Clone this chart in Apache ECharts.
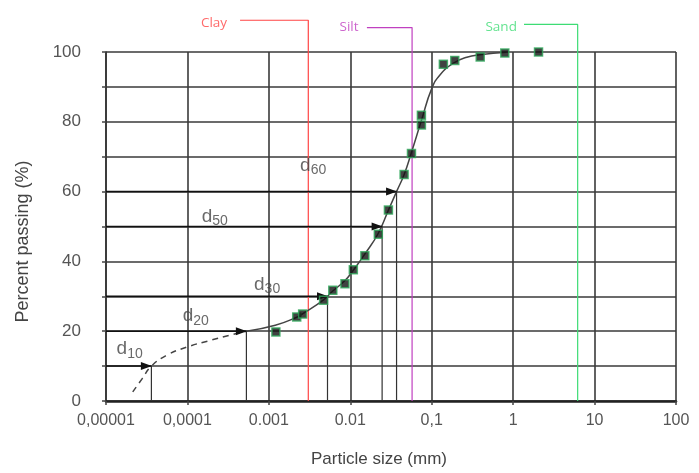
<!DOCTYPE html>
<html>
<head>
<meta charset="utf-8">
<script src="https://cdn.jsdelivr.net/npm/echarts@6/dist/echarts.min.js"></script>
<style>html,body{margin:0;padding:0;background:#fff}#c{width:699px;height:473px}</style>
</head>
<body>
<div id="c"></div>
<script>
// ---- Data ----
const xTickLabels = ['0,00001', '0,0001', '0.001', '0.01', '0,1', '1', '10', '100'];
const yTickLabels = ['0', '20', '40', '60', '80', '100'];

// measured grain sizes (mm) and percent passing
const sampleSize = [0.00122, 0.0022, 0.0026, 0.0047, 0.0061, 0.0086, 0.0109, 0.0151, 0.0221, 0.0294, 0.0458, 0.0564, 0.0747, 0.0747, 0.139, 0.192, 0.394, 0.79, 2.05];
const samplePass = [19.8, 24.1, 24.9, 28.9, 31.7, 33.6, 37.6, 41.6, 47.8, 54.7, 64.9, 70.9, 79.1, 81.9, 96.5, 97.6, 98.6, 99.7, 100];

// fitted gradation curve (solid part)
const curveSize = [0.00053, 0.0012, 0.0022, 0.0026, 0.0047, 0.0061, 0.0086, 0.011, 0.015, 0.022, 0.0294, 0.037, 0.046, 0.056, 0.075, 0.1, 0.127, 0.185, 0.27, 0.39, 0.83];
const curvePass = [20, 21.7, 24, 25, 29, 31.5, 34.5, 37.6, 42, 48, 54.7, 60, 65, 71, 80.5, 89.5, 93.5, 96.8, 98.5, 99.2, 99.9];

// extrapolated curve (dashed part)
const extraSize = [0.0000213, 0.0000280, 0.0000361, 0.0000557, 0.0001, 0.0002, 0.00035, 0.00053];
const extraPass = [2.6, 6.5, 10, 13.1, 15.5, 17.5, 19, 20];

// characteristic diameters
const dNames = ['10', '20', '30', '50', '60'];
const dPass = [10, 20, 30, 50, 60];
const dSize = [0.0000361, 0.00053, 0.00525, 0.0246, 0.037];
// label anchor positions for d labels
const dLabelSize = [0.0000135, 0.0000875, 0.000658, 0.00015, 0.00242];
const dLabelPass = [15.0, 24.4, 33.4, 52.9, 67.5];

// soil class boundaries
const classNames = ['Clay', 'Silt', 'Sand'];
const classColors = ['#ff4545', '#c040c0', '#3ddc74'];
const classLimit = [0.00305, 0.0574, 6.2];
const classLeaderStart = [0.000443, 0.016, 1.36];
const classLeaderPass = [109.1, 107.0, 107.9];
const classLabelSize = [0.000212, 0.00966, 0.713];
const classLabelPass = [108.3, 107.0, 107.0];

const xMinVal = 0.00001, xMaxVal = 100;

// ---- Chart ----
const chart = echarts.init(document.getElementById('c'), null, {renderer: 'canvas'});
const FONT = '"Liberation Sans", Arial, sans-serif';

const series = [];

series.push({
  type: 'line', name: 'extrapolated',
  data: extraSize.map((x, i) => [x, extraPass[i]]),
  smooth: 0.5, showSymbol: false, symbol: 'none', clip: false,
  lineStyle: {color: '#444', width: 1.5, type: [6, 5]}, z: 3
});
series.push({
  type: 'line', name: 'curve',
  data: curveSize.map((x, i) => [x, curvePass[i]]),
  smooth: 0.5, showSymbol: false, symbol: 'none', clip: false,
  lineStyle: {color: '#444', width: 1.5}, z: 3
});

// d arrows and drop lines
dNames.forEach((n, i) => {
  series.push({
    type: 'line', clip: false, z: 4,
    data: [
      {value: [xMinVal, dPass[i]], symbol: 'none'},
      {value: [dSize[i], dPass[i]], symbol: 'triangle', symbolSize: [8, 11], symbolRotate: -90, symbolOffset: [-5, 0]}
    ],
    showSymbol: true, showAllSymbol: true,
    itemStyle: {color: '#111'},
    lineStyle: {color: '#111', width: 1.5}
  });
  series.push({
    type: 'line', clip: false, z: 4, symbol: 'none',
    data: [[dSize[i], 0], [dSize[i], dPass[i]]],
    lineStyle: {color: '#333', width: 1.2}
  });
});

// d labels
series.push({
  type: 'scatter', symbolSize: 0, clip: false, z: 5,
  data: dLabelSize.map((x, i) => ({value: [x, dLabelPass[i]], name: dNames[i]})),
  label: {
    show: true, position: 'right', distance: 0,
    formatter: p => '{d|d}{s|' + p.name + '}',
    rich: {
      d: {fontFamily: FONT, fontSize: 19, color: '#444', lineHeight: 24},
      s: {fontFamily: FONT, fontSize: 14, color: '#444', verticalAlign: 'bottom'}
    }
  }
});

// class boundaries
classNames.forEach((n, i) => {
  series.push({
    type: 'line', clip: false, z: 2, symbol: 'none',
    data: [[classLeaderStart[i], classLeaderPass[i]], [classLimit[i], classLeaderPass[i]], [classLimit[i], 0]],
    lineStyle: {color: classColors[i], width: 1.2}
  });
  series.push({
    type: 'scatter', clip: false, symbolSize: 0, z: 5,
    data: [[classLabelSize[i], classLabelPass[i]]],
    label: {show: true, position: 'inside', formatter: n, color: classColors[i], fontFamily: '"Open Sans", "Noto Sans", sans-serif', fontSize: 13.5}
  });
});

// samples
series.push({
  type: 'scatter', name: 'samples', z: 6, clip: false,
  data: sampleSize.map((x, i) => [x, samplePass[i]]),
  symbol: 'rect', symbolSize: 8,
  itemStyle: {color: '#111', borderColor: '#2fa65a', borderWidth: 1.5}
});

chart.setOption({
  animation: false,
  backgroundColor: '#ffffff',
  grid: {left: 106, right: 23, top: 52, bottom: 69, containLabel: false},
  xAxis: {
    type: 'log', logBase: 10, min: xMinVal, max: xMaxVal, interval: 1,
    name: 'Particle size (mm)', nameLocation: 'middle', nameGap: 50,
    nameTextStyle: {fontFamily: FONT, fontSize: 17, color: '#444', padding: [0, 24, 0, 0]},
    axisLine: {show: true, lineStyle: {color: '#222', width: 2.5}},
    axisTick: {show: true, length: 4, lineStyle: {color: '#444', width: 1.5}},
    axisLabel: {
      margin: 12, fontFamily: FONT, fontSize: 16, color: '#555',
      formatter: v => xTickLabels[Math.round(Math.log10(v)) + 5]
    },
    splitLine: {show: true, lineStyle: {color: '#3a3a3a', width: 1.6}}
  },
  yAxis: {
    type: 'value', min: 0, max: 100, interval: 10,
    name: 'Percent passing (%)', nameLocation: 'middle', nameGap: 74, nameRotate: 90,
    nameTextStyle: {fontFamily: FONT, fontSize: 18, color: '#444', padding: [0, 30, 0, 0]},
    axisLine: {show: true, lineStyle: {color: '#333', width: 1.6}},
    axisTick: {show: true, length: 4, lineStyle: {color: '#444', width: 1.5}},
    axisLabel: {
      margin: 25, fontFamily: FONT, fontSize: 17, color: '#555',
      formatter: v => (v % 20 === 0 ? yTickLabels[v / 20] : '')
    },
    splitLine: {show: true, lineStyle: {color: '#3a3a3a', width: 1.6}}
  },
  series: series
});
</script>
</body>
</html>
